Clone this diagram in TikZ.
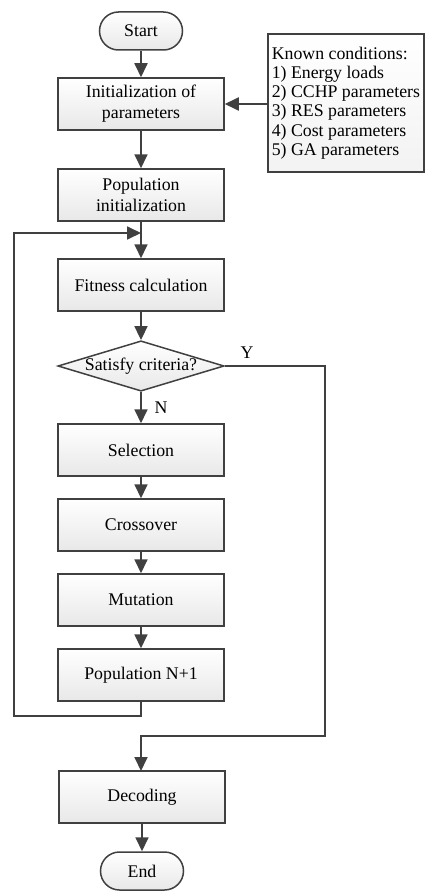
\documentclass[tikz,border=0pt]{standalone}
\usepackage{fontspec}
\setmainfont{Liberation Serif}
\usetikzlibrary{arrows.meta,shapes.geometric}
\definecolor{linec}{HTML}{404040}
\begin{document}
\begin{tikzpicture}[x=1pt,y=-1pt,
  every node/.style={font=\fontsize{17.8}{21}\selectfont},
  boxfill/.style={draw=linec,line width=1.5pt,top color=white,bottom color=black!9},
  proc/.style={boxfill,minimum width=166pt,minimum height=52pt,inner sep=0pt,align=center},
  term/.style={boxfill,rounded corners=19pt,minimum width=83pt,minimum height=38pt,inner sep=0pt},
  dec/.style={boxfill,diamond,aspect=3.3,minimum width=166pt,minimum height=50pt,inner sep=0pt},
  info/.style={boxfill,top color=white,bottom color=black!5,align=left,inner xsep=4pt,inner ysep=0pt,minimum height=138pt,font=\fontsize{17.8}{19.3}\selectfont},
  arr/.style={draw=linec,line width=1.8pt,-{Triangle[length=14pt,width=13pt]}},
  lbl/.style={inner sep=0pt}
]
\useasboundingbox (0,0) rectangle (424,891);

\node[term] (start) at (141,31) {Start};
\node[proc] (init) at (141,104) {Initialization of\\parameters};
\node[info,anchor=west] (known) at (267,103) {Known conditions:\\1) Energy loads\\2) CCHP parameters\\3) RES parameters\\4) Cost parameters\\5) GA parameters};
\node[proc] (pop) at (141,195) {Population\\initialization};
\node[proc] (fit) at (141,285) {Fitness calculation};
\node[dec] (crit) at (141,366) {Satisfy criteria?};
\node[proc] (sel) at (141,450) {Selection};
\node[proc] (cross) at (141,525) {Crossover};
\node[proc] (mut) at (141,600) {Mutation};
\node[proc] (popn) at (141,675) {Population N+1};
\node[proc] (decode) at (142,797) {Decoding};
\node[term] (end) at (142,871) {End};

\node[lbl] (ylab) at (247,353) {Y};
\node[lbl] (nlab) at (161,408) {N};

\coordinate (loopin) at (141,233);
\coordinate (loopbl) at (14,716);
\coordinate (yturn) at (325,736);

\draw[arr] (start) -- (init);
\draw[arr] (known.west |- init) -- (init.east);
\draw[arr] (init) -- (pop);
\draw[arr] (pop) -- (fit);
\draw[arr] (fit) -- (crit);
\draw[arr] (crit) -- (sel);
\draw[arr] (sel) -- (cross);
\draw[arr] (cross) -- (mut);
\draw[arr] (mut) -- (popn);
\draw[arr] (popn.south) |- (loopbl) |- (loopin);
\draw[arr] (crit.east) -| (yturn) -| (141,771);
\draw[arr] (decode.south -| end) -- (end);
\end{tikzpicture}
\end{document}
